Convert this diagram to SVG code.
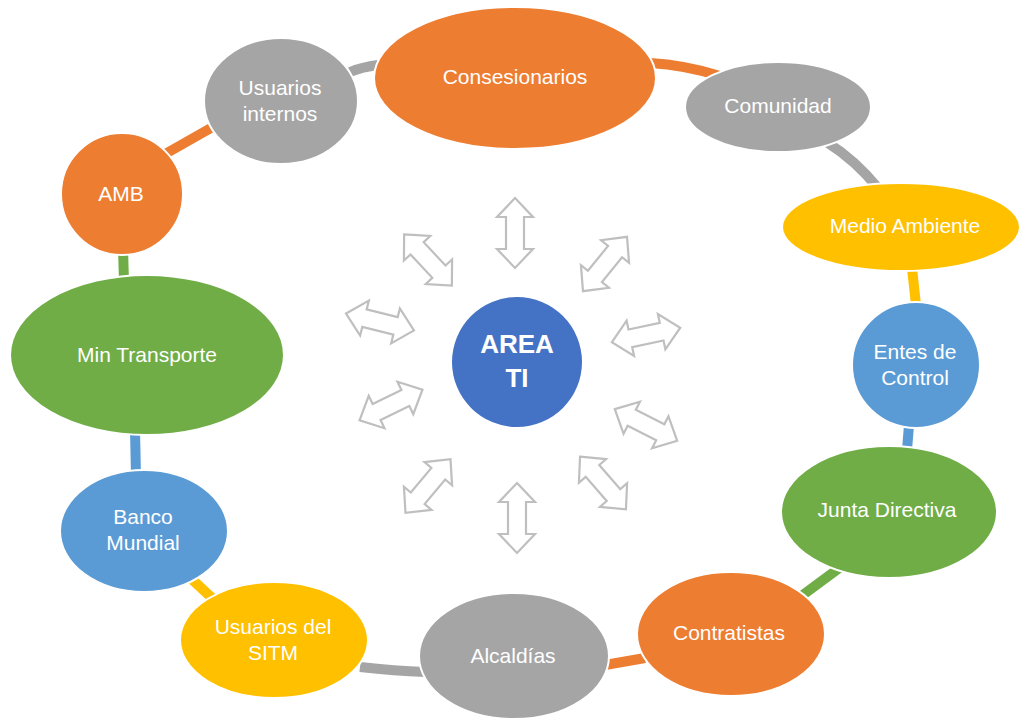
<svg xmlns="http://www.w3.org/2000/svg" width="1020" height="719" viewBox="0 0 1020 719">
<defs>
<style>
.n{stroke:#fff;stroke-width:2}
.o{fill:#ED7D31}.g{fill:#A5A5A5}.y{fill:#FFC000}.b{fill:#5B9BD5}.gr{fill:#70AD47}.db{fill:#4472C4}
.t{font-family:"Liberation Sans",Arial,sans-serif;font-size:21px;fill:#fff;text-anchor:middle}
.tb{font-family:"Liberation Sans",Arial,sans-serif;font-size:26px;font-weight:bold;fill:#fff;text-anchor:middle}
.c{fill:none;stroke-width:10}
.ar{fill:#fff;stroke:#BFBFBF;stroke-width:2.2;stroke-linejoin:miter}
</style>
<polygon id="dbl" points="-35,0 -16,-18 -16,-9 16,-9 16,-18 35,0 16,18 16,9 -16,9 -16,18"/>
</defs>
<rect width="1020" height="719" fill="#fff"/>
<g id="connectors">
<path class="c" stroke="#ED7D31" d="M158,158 L218,124"/>
<path class="c" stroke="#A5A5A5" d="M350,72 Q362,67 378,65"/>
<path class="c" stroke="#ED7D31" d="M650,63 Q685,65 720,76"/>
<path class="c" stroke="#A5A5A5" d="M828,143 Q855,160 878,188"/>
<path class="c" stroke="#FFC000" d="M912,268 L916,305"/>
<path class="c" stroke="#5B9BD5" d="M909,425 L907,450"/>
<path class="c" stroke="#70AD47" d="M842,566 L796,600"/>
<path class="c" stroke="#ED7D31" d="M645,658 L605,665"/>
<path class="c" stroke="#A5A5A5" d="M425,672 Q395,671 360,667"/>
<path class="c" stroke="#FFC000" d="M212,598 L183,571"/>
<path class="c" stroke="#5B9BD5" d="M136,476 L135,430"/>
<path class="c" stroke="#70AD47" d="M124,282 L123,248"/>
</g>
<g id="arrows">
<use href="#dbl" class="ar" transform="translate(515,233) rotate(90)"/>
<use href="#dbl" class="ar" transform="translate(605,264) rotate(-51)"/>
<use href="#dbl" class="ar" transform="translate(646,335) rotate(-12)"/>
<use href="#dbl" class="ar" transform="translate(646,425) rotate(27)"/>
<use href="#dbl" class="ar" transform="translate(603,483) rotate(49)"/>
<use href="#dbl" class="ar" transform="translate(517,518) rotate(90)"/>
<use href="#dbl" class="ar" transform="translate(428,486) rotate(-50)"/>
<use href="#dbl" class="ar" transform="translate(391,405) rotate(-26)"/>
<use href="#dbl" class="ar" transform="translate(380,322) rotate(14)"/>
<use href="#dbl" class="ar" transform="translate(428,260) rotate(47)"/>
</g>
<g id="consesionarios"><ellipse class="n o" cx="515" cy="78" rx="141" ry="71"/><text class="t" x="515" y="84">Consesionarios</text></g>
<g id="comunidad"><ellipse class="n g" cx="778" cy="107" rx="93" ry="45"/><text class="t" x="778" y="113">Comunidad</text></g>
<g id="medio-ambiente"><ellipse class="n y" cx="901" cy="227" rx="119" ry="44"/><text class="t" x="905" y="233">Medio Ambiente</text></g>
<g id="entes-de-control"><ellipse class="n b" cx="916" cy="365" rx="64" ry="63"/><text class="t" x="915" y="359">Entes de</text><text class="t" x="915" y="385">Control</text></g>
<g id="junta-directiva"><ellipse class="n gr" cx="889" cy="512" rx="108" ry="66"/><text class="t" x="887" y="517">Junta Directiva</text></g>
<g id="contratistas"><ellipse class="n o" cx="731" cy="634" rx="94" ry="62"/><text class="t" x="729" y="640">Contratistas</text></g>
<g id="alcaldias"><ellipse class="n g" cx="514" cy="656" rx="95" ry="63"/><text class="t" x="513" y="663">Alcaldías</text></g>
<g id="usuarios-sitm"><ellipse class="n y" cx="274" cy="640" rx="94" ry="58"/><text class="t" x="273" y="634">Usuarios del</text><text class="t" x="273" y="660">SITM</text></g>
<g id="banco-mundial"><ellipse class="n b" cx="144" cy="531" rx="84" ry="61"/><text class="t" x="143" y="524">Banco</text><text class="t" x="143" y="550">Mundial</text></g>
<g id="min-transporte"><ellipse class="n gr" cx="147" cy="355" rx="137" ry="80"/><text class="t" x="147" y="362">Min Transporte</text></g>
<g id="amb"><ellipse class="n o" cx="122" cy="194" rx="61" ry="61"/><text class="t" x="121" y="201">AMB</text></g>
<g id="usuarios-internos"><ellipse class="n g" cx="281" cy="101" rx="77" ry="63"/><text class="t" x="280" y="95">Usuarios</text><text class="t" x="280" y="121">internos</text></g>
<g id="area-ti"><circle class="db" cx="517" cy="362" r="65"/><text class="tb" x="517" y="353">AREA</text><text class="tb" x="517" y="387">TI</text></g>
</svg>
